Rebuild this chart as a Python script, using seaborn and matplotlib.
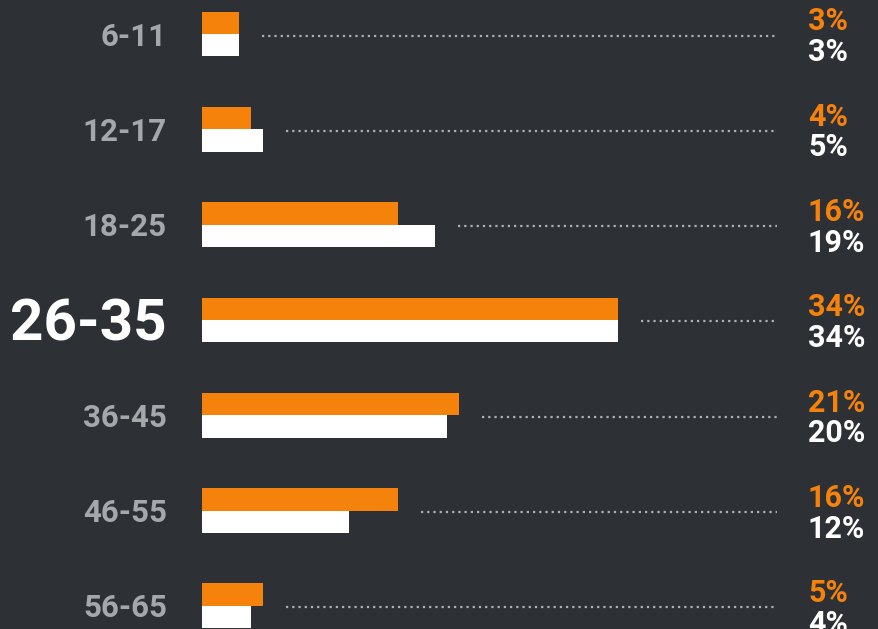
import pandas as pd
import seaborn as sns
import matplotlib.pyplot as plt
from matplotlib import font_manager

# données
ages = ["6-11", "12-17", "18-25", "26-35", "36-45", "46-55", "56-65"]
part_orange = [3, 4, 16, 34, 21, 16, 5]
part_blanc = [3, 5, 19, 34, 20, 12, 4]
age_mis_en_avant = "26-35"

BG = "#2d3034"
ORANGE = "#f5820b"
BLANC = "#ffffff"
GRIS = "#a5a8ab"
POINTS = "#aeb1b4"

# echelle : 1 % = 12.24 px, une ligne = 95.3 px
PX_X = 12.24
PX_Y = 95.3

sns.set_theme(style="white")
installed = {f.name for f in font_manager.fontManager.ttflist}
police = "Liberation Sans Narrow" if "Liberation Sans Narrow" in installed else "Roboto"
plt.rcParams["font.family"] = [police, "DejaVu Sans"]

df = pd.DataFrame({
    "age": ages * 2,
    "serie": ["orange"] * len(ages) + ["blanc"] * len(ages),
    "valeur": part_orange + part_blanc,
})

fig = plt.figure(figsize=(8.79, 6.29), dpi=100, facecolor=BG)
ax = fig.add_axes([0, 0, 1, 1])
ax.set_facecolor(BG)

sns.barplot(
    data=df, x="valeur", y="age", hue="serie", orient="h",
    order=ages, hue_order=["orange", "blanc"],
    palette=[ORANGE, BLANC], width=0.47, saturation=1,
    linewidth=0, legend=False, ax=ax,
)

ax.set_xlim(-202 / PX_X, (879 - 202) / PX_X)
ax.set_ylim((629 - 34) / PX_Y, -34 / PX_Y)
ax.set_axis_off()

fin_points = (777 - 202) / PX_X
x_label = (167 - 202) / PX_X
x_pct = (808 - 202) / PX_X

for i, (age, a, b) in enumerate(zip(ages, part_orange, part_blanc)):
    # ligne pointillée entre la barre et les pourcentages
    ax.hlines(i + 1.5 / PX_Y, max(a, b) + 1.9, fin_points, colors=POINTS,
              linewidth=1.6, linestyles=(0, (1, 1.8)))

    if age == age_mis_en_avant:
        ax.text(x_label, i + 21 / PX_Y, age, ha="right", va="baseline",
                fontsize=42, fontweight="bold", color=BLANC)
    else:
        ax.text(x_label, i + 11.5 / PX_Y, age, ha="right", va="baseline",
                fontsize=22.5, fontweight="bold", color=GRIS)

    ax.text(x_pct, i - 3.5 / PX_Y, f"{a}%", ha="left", va="baseline",
            fontsize=22, fontweight="bold", color=ORANGE)
    ax.text(x_pct, i + 27 / PX_Y, f"{b}%", ha="left", va="baseline",
            fontsize=22, fontweight="bold", color=BLANC)

fig.savefig("out.png", dpi=100, facecolor=BG)
